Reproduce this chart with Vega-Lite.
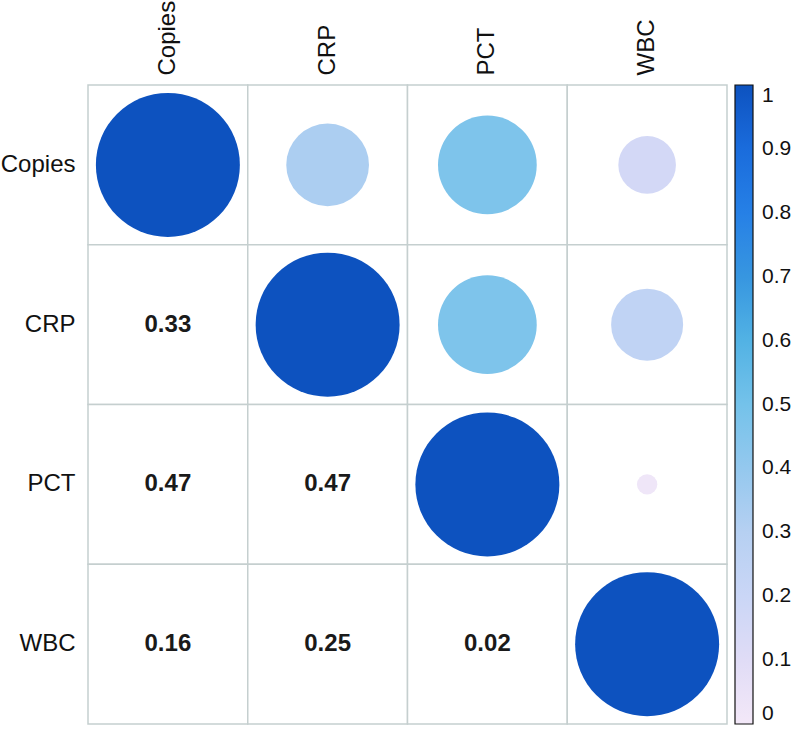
{
  "$schema": "https://vega.github.io/schema/vega-lite/v6.json",
  "autosize": "none",
  "padding": {"left": 88, "top": 85, "right": 65, "bottom": 8},
  "width": 639,
  "height": 639,
  "background": "white",
  "config": {
    "view": {"stroke": null},
    "font": "Liberation Sans"
  },
  "data": {
    "values": [
      {"row": "Copies", "col": "Copies", "r": 1.0, "part": "upper"},
      {"row": "Copies", "col": "CRP", "r": 0.33, "part": "upper"},
      {"row": "Copies", "col": "PCT", "r": 0.47, "part": "upper"},
      {"row": "Copies", "col": "WBC", "r": 0.16, "part": "upper"},
      {"row": "CRP", "col": "Copies", "r": 0.33, "part": "lower"},
      {"row": "CRP", "col": "CRP", "r": 1.0, "part": "upper"},
      {"row": "CRP", "col": "PCT", "r": 0.47, "part": "upper"},
      {"row": "CRP", "col": "WBC", "r": 0.25, "part": "upper"},
      {"row": "PCT", "col": "Copies", "r": 0.47, "part": "lower"},
      {"row": "PCT", "col": "CRP", "r": 0.47, "part": "lower"},
      {"row": "PCT", "col": "PCT", "r": 1.0, "part": "upper"},
      {"row": "PCT", "col": "WBC", "r": 0.02, "part": "upper"},
      {"row": "WBC", "col": "Copies", "r": 0.16, "part": "lower"},
      {"row": "WBC", "col": "CRP", "r": 0.25, "part": "lower"},
      {"row": "WBC", "col": "PCT", "r": 0.02, "part": "lower"},
      {"row": "WBC", "col": "WBC", "r": 1.0, "part": "upper"}
    ]
  },
  "encoding": {
    "x": {
      "field": "col", "type": "nominal",
      "sort": ["Copies", "CRP", "PCT", "WBC"],
      "scale": {"paddingInner": 0, "paddingOuter": 0},
      "axis": {
        "orient": "top", "title": null, "domain": false, "ticks": false,
        "labelAngle": -90, "labelFontSize": 24, "labelColor": "#111111",
        "labelPadding": 10, "labelFont": "Liberation Sans"
      }
    },
    "y": {
      "field": "row", "type": "nominal",
      "sort": ["Copies", "CRP", "PCT", "WBC"],
      "scale": {"paddingInner": 0, "paddingOuter": 0},
      "axis": {
        "title": null, "domain": false, "ticks": false,
        "labelFontSize": 24, "labelColor": "#111111",
        "labelPadding": 13, "labelFont": "Liberation Sans"
      }
    }
  },
  "layer": [
    {
      "mark": {"type": "rect", "fill": "white", "stroke": "#c5cfcf", "strokeWidth": 1.5}
    },
    {
      "transform": [{"filter": "datum.part === 'upper'"}],
      "mark": {"type": "point", "shape": "circle", "filled": true, "opacity": 1},
      "encoding": {
        "size": {
          "field": "r", "type": "quantitative",
          "scale": {"domain": [0, 1], "range": [0, 20736], "zero": true},
          "legend": null
        },
        "color": {
          "field": "r", "type": "quantitative",
          "scale": {
            "domain": [0, 0.1, 0.2, 0.3, 0.4, 0.5, 0.6, 0.7, 0.8, 0.9, 1],
            "range": ["#f3e8f8", "#e0dcf6", "#cad6f6", "#b6d0f2", "#94c8ee", "#74c2ea", "#52b2e4", "#3796e0", "#2680e6", "#1a6cdc", "#0d52bf"],
            "interpolate": "rgb"
          },
          "legend": {
            "title": null,
            "orient": "right",
            "offset": 8,
            "type": "gradient",
            "direction": "vertical",
            "gradientLength": 639,
            "gradientThickness": 18,
            "gradientStrokeColor": "#111111",
            "gradientStrokeWidth": 1.2,
            "values": [0, 0.1, 0.2, 0.3, 0.4, 0.5, 0.6, 0.7, 0.8, 0.9, 1],
            "format": "~g",
            "labelFontSize": 21,
            "labelColor": "#111111",
            "labelOffset": 9,
            "labelOverlap": false,
            "labelFont": "Liberation Sans"
          }
        }
      }
    },
    {
      "transform": [{"filter": "datum.part === 'lower'"}],
      "mark": {"type": "text", "fontSize": 24, "fontWeight": "bold", "color": "#1a1a1a", "font": "Liberation Sans"},
      "encoding": {
        "text": {"field": "r", "type": "quantitative", "format": ".2f"}
      }
    }
  ]
}
